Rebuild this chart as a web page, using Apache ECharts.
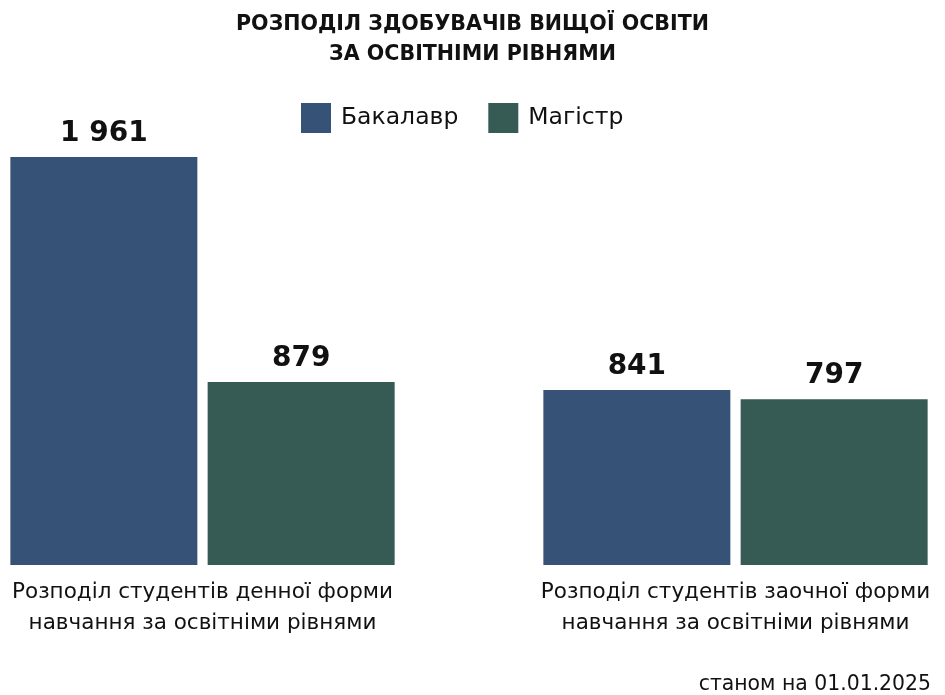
<!DOCTYPE html>
<html>
<head>
<meta charset="utf-8">
<script src="https://cdn.jsdelivr.net/npm/echarts@6/dist/echarts.min.js"></script>
<style>
  html, body { margin: 0; padding: 0; background: #fff; }
  #main { width: 945px; height: 695px; }
</style>
</head>
<body>
<div id="main"></div>
<script>
var categories = [
  'Розподіл студентів денної форми\nнавчання за освітніми рівнями',
  'Розподіл студентів заочної форми\nнавчання за освітніми рівнями'
];
var seriesNames = ['Бакалавр', 'Магістр'];
var bachelorValues = [1961, 841];
var masterValues = [879, 797];

var FONT = 'DejaVu Sans';

var chartDom = document.getElementById('main');
var myChart = echarts.init(chartDom);
var option;

function fmt(p) {
  return String(p.value).replace(/\B(?=(\d{3})+(?!\d))/g, ' ');
}

var labelStyle = {
  show: true,
  position: 'top',
  distance: 9,
  formatter: fmt,
  color: '#111',
  fontSize: 28,
  fontWeight: 'bold',
  fontFamily: FONT
};

option = {
  backgroundColor: '#fff',
  textStyle: { fontFamily: FONT },
  title: {
    text: 'РОЗПОДІЛ ЗДОБУВАЧІВ ВИЩОЇ ОСВІТИ\nЗА ОСВІТНІМИ РІВНЯМИ',
    left: 'center',
    top: 5,
    textStyle: {
      fontSize: 20.6,
      fontWeight: 'bold',
      color: '#111',
      lineHeight: 30,
      fontFamily: FONT
    }
  },
  legend: {
    top: 98,
    left: 296,
    itemWidth: 30,
    itemHeight: 30,
    itemGap: 30,
    icon: 'rect',
    textStyle: { fontSize: 23.5, color: '#111', fontFamily: FONT, padding: [0, 0, 0, 5] },
    data: seriesNames
  },
  grid: {
    left: -64,
    right: -57,
    top: 157,
    bottom: 130,
    outerBoundsMode: 'none',
    containLabel: false
  },
  xAxis: {
    type: 'category',
    data: categories,
    axisLine: { show: false },
    axisTick: { show: false },
    axisLabel: {
      margin: 12,
      fontSize: 21.5,
      lineHeight: 31,
      color: '#111',
      fontFamily: FONT
    }
  },
  yAxis: {
    type: 'value',
    min: 0,
    max: 1961,
    show: false,
    splitLine: { show: false }
  },
  series: [
    {
      name: seriesNames[0],
      type: 'bar',
      data: bachelorValues,
      barWidth: 187,
      barGap: '5.5%',
      itemStyle: { color: '#375277' },
      label: labelStyle
    },
    {
      name: seriesNames[1],
      type: 'bar',
      data: masterValues,
      barWidth: 187,
      itemStyle: { color: '#365a54' },
      label: labelStyle
    }
  ],
  graphic: [
    {
      type: 'text',
      right: 14,
      bottom: 0,
      style: {
        text: 'станом на 01.01.2025',
        fontSize: 20.4,
        fill: '#111',
        fontFamily: FONT
      }
    }
  ]
};

option && myChart.setOption(option);
</script>
</body>
</html>
